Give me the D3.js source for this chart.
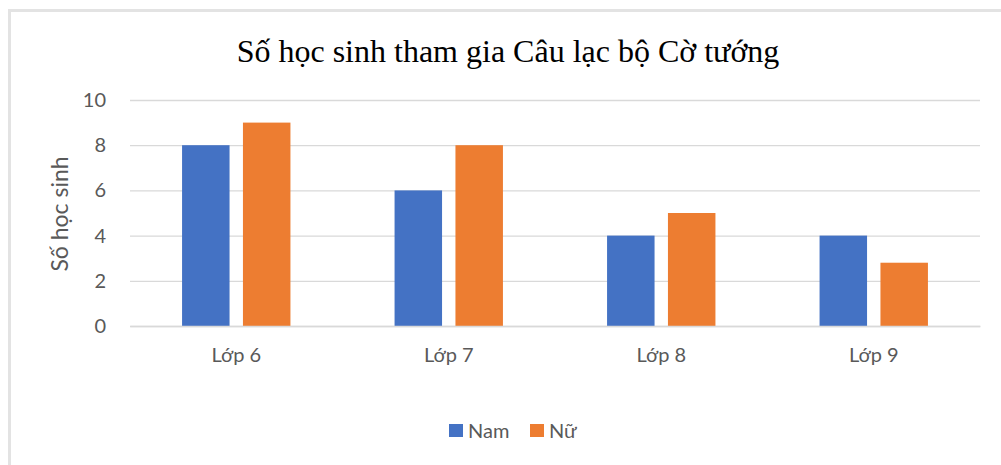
<!DOCTYPE html>
<html>
<head>
<meta charset="utf-8">
<script src="https://cdn.jsdelivr.net/npm/d3@7"></script>
<style>
html,body{margin:0;padding:0;background:#fff;}
svg{display:block;}
</style>
</head>
<body>
<svg id="chart" width="1001" height="465"></svg>
<script>
const title = "Số học sinh tham gia Câu lạc bộ Cờ tướng";
const yAxisTitle = "Số học sinh";
const categories = ["Lớp 6", "Lớp 7", "Lớp 8", "Lớp 9"];
const seriesNames = ["Nam", "Nữ"];
const namValues = [8, 6, 4, 4];
const nuValues = [9, 8, 5, 2.8];
const yTicks = [0, 2, 4, 6, 8, 10];
const colors = ["#4472C4", "#ED7D31"];

const data = categories.map((c, i) => ({cat: c, values: [namValues[i], nuValues[i]]}));

const svg = d3.select("#chart");
const plotL = 130, plotR = 980, plotT = 100, plotB = 326;
const sans = "Lato, 'Open Sans', sans-serif";
const textGray = "#595959";

// frame
svg.append("rect").attr("x", 9.5).attr("y", 10.5).attr("width", 1010).attr("height", 470)
  .attr("fill", "#fff").attr("stroke", "#e3e3e3").attr("stroke-width", 3);

const x0 = d3.scaleBand().domain(categories).range([plotL, plotR]).paddingInner(0.49).paddingOuter(0.245);
const x1 = d3.scaleBand().domain(seriesNames).range([0, x0.bandwidth()]).paddingInner(0.22);
const y = d3.scaleLinear().domain([0, 10]).range([plotB, plotT]);

// gridlines
const grid = svg.append("g").attr("transform", `translate(${plotL},0)`)
  .call(d3.axisLeft(y).tickValues(yTicks).tickSize(-(plotR - plotL)).tickFormat(""));
grid.select(".domain").remove();
grid.selectAll(".tick line").attr("stroke", "#d9d9d9").attr("stroke-width", 1.3);

// y tick labels
const yax = svg.append("g").attr("transform", `translate(${plotL},0)`)
  .call(d3.axisLeft(y).tickValues(yTicks).tickSize(0).tickPadding(24));
yax.select(".domain").remove();
yax.selectAll("text").attr("font-family", sans).attr("font-size", 20).attr("fill", textGray);

// bars
const groups = svg.append("g").selectAll("g").data(data).join("g")
  .attr("transform", d => `translate(${x0(d.cat)},0)`);
groups.selectAll("rect").data(d => d.values.map((v, j) => ({name: seriesNames[j], v, j}))).join("rect")
  .attr("x", d => x1(d.name))
  .attr("y", d => y(d.v))
  .attr("width", x1.bandwidth())
  .attr("height", d => y(0) - y(d.v))
  .attr("fill", d => colors[d.j]);

// x axis
const xax = svg.append("g").attr("transform", `translate(0,${plotB})`)
  .call(d3.axisBottom(x0).tickSize(0).tickPadding(22));
xax.select(".domain").attr("stroke", "#d9d9d9").attr("stroke-width", 1.3);
xax.selectAll("text").attr("font-family", sans).attr("font-size", 20).attr("fill", textGray);

// title
svg.append("text").attr("x", 508).attr("y", 62).attr("text-anchor", "middle")
  .attr("font-family", "'Liberation Serif', serif").attr("font-size", 32).attr("fill", "#000")
  .text(title);

// y axis title
svg.append("text").attr("transform", "translate(68,214) rotate(-90)").attr("text-anchor", "middle")
  .attr("font-family", sans).attr("font-size", 23).attr("fill", textGray)
  .text(yAxisTitle);

// legend
const legend = svg.append("g").attr("transform", "translate(449,431)");
const lx = [0, 81];
seriesNames.forEach((s, i) => {
  const g = legend.append("g").attr("transform", `translate(${lx[i]},0)`);
  g.append("rect").attr("x", 0).attr("y", -7).attr("width", 14).attr("height", 13).attr("fill", colors[i]);
  g.append("text").attr("x", 19).attr("y", 7).attr("font-family", sans)
    .attr("font-size", 20).attr("fill", textGray).text(s);
});
</script>
</body>
</html>
